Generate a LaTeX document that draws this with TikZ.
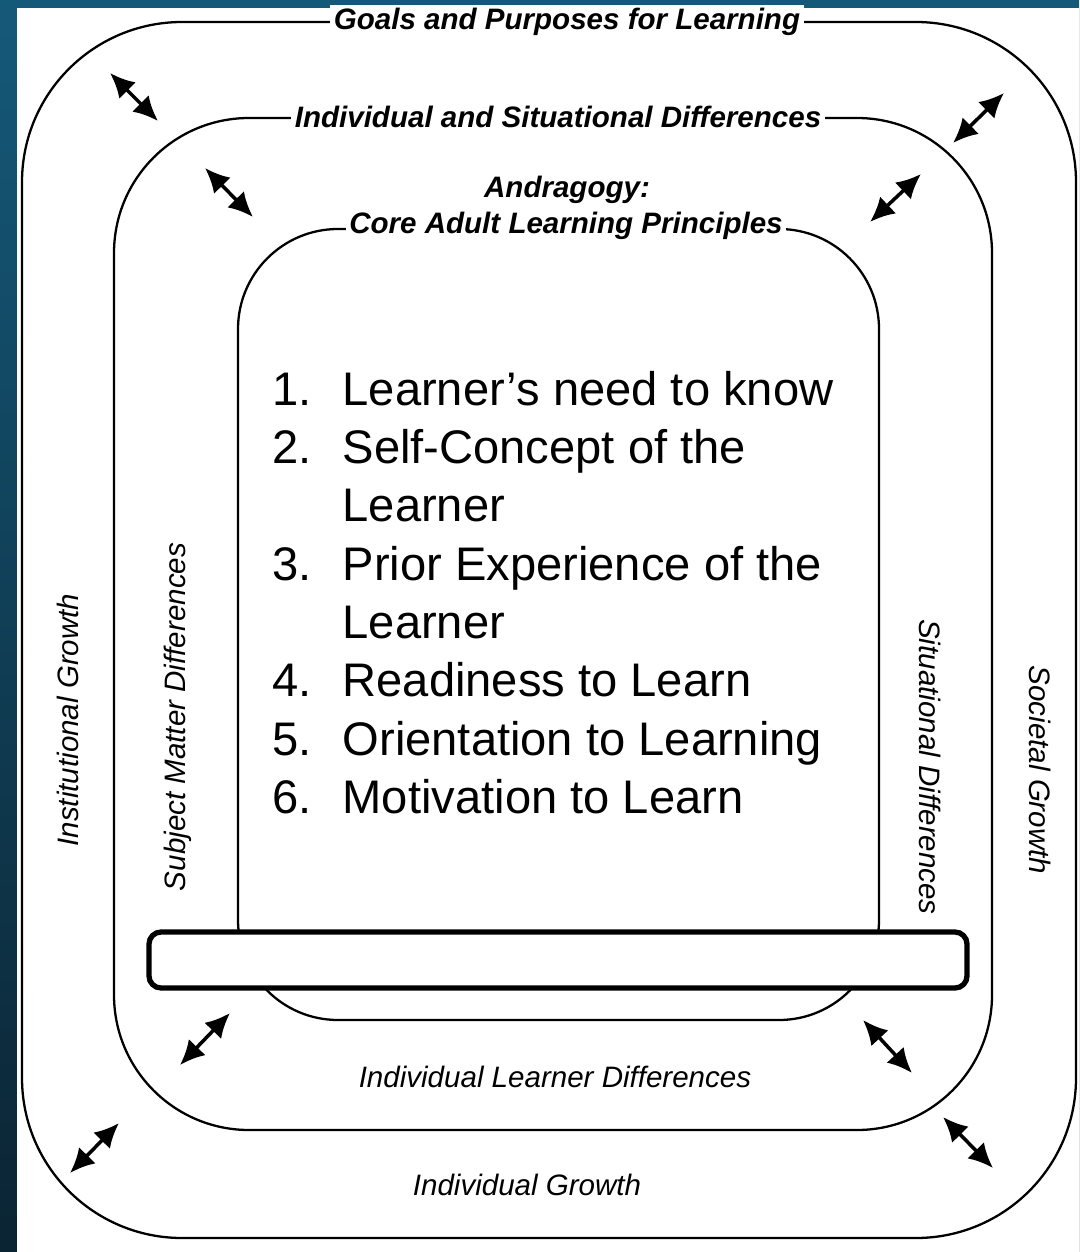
\documentclass[tikz,border=0pt]{standalone}
\usepackage{fontspec}
\setmainfont{Liberation Sans}
\usetikzlibrary{arrows.meta}

\definecolor{bgtop}{RGB}{21,89,121}
\definecolor{bgbottom}{RGB}{11,36,51}

\begin{document}
\begin{tikzpicture}[
		x=0.01cm, y=-0.01cm,
		line cap=round,
		ring/.style={line width=0.65pt, rounded corners=#1},
		ringtext/.style={fill=white, inner sep=1pt, font=\fontsize{8.4}{10}\selectfont\bfseries\itshape},
		sidetext/.style={inner sep=1pt, font=\fontsize{8.4}{10}\selectfont\itshape},
		twoway/.style={{Latex[length=7pt,width=6.6pt]}-{Latex[length=7pt,width=6.6pt]}, line width=1pt},
	]
	\useasboundingbox (0,0) rectangle (1079,1252);
	\shade[top color=bgtop, bottom color=bgbottom] (0,0) rectangle (1079,1252);
	\fill[white] (17,8) rectangle (1079,1252);

	% the three rings, outermost first
	\draw[ring=1.6cm] (22,22) rectangle (1076,1238);
	\draw[ring=1.35cm] (114,118) rectangle (992,1130);
	\draw[ring=1cm] (238,229) rectangle (879,1020);

	% shelf across the bottom of the inner ring
	\draw[line width=1.5pt, fill=white, rounded corners=0.12cm] (149,932) rectangle (967,988);

	\node[ringtext] (goals) at (567,22) {Goals and Purposes for Learning};
	\node[ringtext] (isdiff) at (558,117) {Individual and Situational Differences};
	\node[font=\fontsize{8.4}{10}\selectfont\bfseries\itshape] (andra) at (567,190) {Andragogy:};
	\node[ringtext] (core) at (566,226) {Core Adult Learning Principles};

	\node[sidetext, rotate=90] (instg) at (68,720) {Institutional Growth};
	\node[sidetext, rotate=90] (subjd) at (178,717) {Subject Matter Differences};
	\node[sidetext, rotate=-90] (situd) at (930,767) {Situational Differences};
	\node[sidetext, rotate=-90] (socg) at (1040,770) {Societal Growth};
	\node[sidetext] (learnd) at (555,1077) {Individual Learner Differences};
	\node[sidetext] (indg) at (527,1185) {Individual Growth};

	\node[anchor=base west, inner sep=0pt, font=\fontsize{13.4}{16.6}\selectfont] (principles) at (272,405) {%
		\begin{tabular}[t]{@{}p{19.9pt}@{}l@{}}
			1. & Learner’s need to know\\
			2. & Self-Concept of the\\
			   & Learner\\
			3. & Prior Experience of the\\
			   & Learner\\
			4. & Readiness to Learn\\
			5. & Orientation to Learning\\
			6. & Motivation to Learn
		\end{tabular}};

	% two-way arrows between the rings
	\foreach \x/\y/\u/\v [count=\k] in {110/73/158/121, 205/168/253/217, 953/143/1004/93, 870/222/921/174,
			180/1065/230/1013, 70/1173/119/1123, 863/1020/912/1073, 943/1117/993/1168} {
		\coordinate (tail\k) at (\x,\y);
		\coordinate (head\k) at (\u,\v);
		\draw[twoway] (tail\k) -- (head\k);
	}
\end{tikzpicture}
\end{document}
